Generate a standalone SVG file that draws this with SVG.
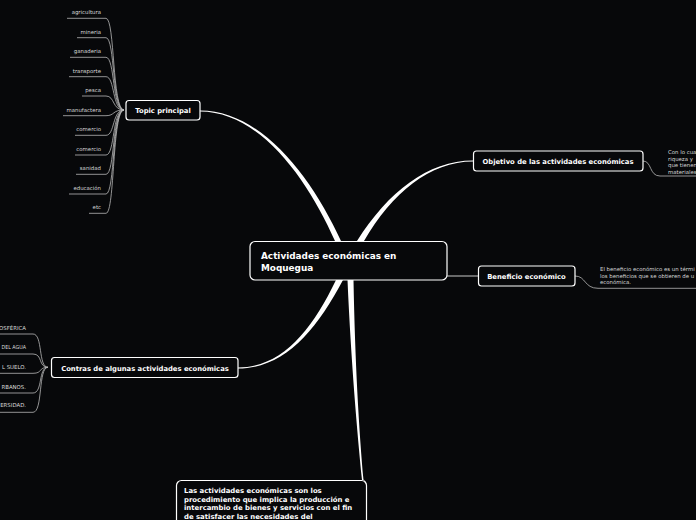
<svg xmlns="http://www.w3.org/2000/svg" width="696" height="520" viewBox="0 0 696 520">
<style>
.bg{fill:#07080a}
.node rect{fill:#07080a;stroke:#ffffff;stroke-width:1.2}
.t{font-family:"DejaVu Sans",Verdana,sans-serif;font-weight:bold;fill:#ffffff}
.leaf{font-family:"DejaVu Sans",Verdana,sans-serif;font-size:5.4px;fill:#d8d8d8}
.ul{fill:none;stroke:#b8b8b8;stroke-width:0.8}
.tap{fill:#ffffff}
</style>
<rect class="bg" x="0" y="0" width="696" height="520"/>
<g id="connectors">
  <path class="tap" d="M200,110.5 C262,110.5 312,178 341,241 L335,241 C308,180 260,111.5 200,111.5 Z"/>
  <path class="tap" d="M357,241 C388,192 428,160.5 473,160.5 L473,161.5 C430,161.5 392,193 364,241 Z"/>
  <path class="tap" d="M336,280 C312,330 282,367.5 238,367.5 L238,368.5 C284,368.5 316,331 343,280 Z"/>
  <path class="tap" d="M347.5,280 C351,360 357,430 362,480 L363.5,480 C359,430 355,360 353.5,280 Z"/>
  <path class="ul" d="M363,480 C365,480 366,482 366,486"/>
  <line x1="447" y1="276" x2="478" y2="276" stroke="#c8c8c8" stroke-width="1"/>
  <path class="ul" d="M67,18.3 H106 C115,18.3 112,110 124,110"/>
  <path class="ul" d="M77,37.7 H106 C115,37.7 112,110 124,110"/>
  <path class="ul" d="M70,57.3 H106 C115,57.3 112,110 124,110"/>
  <path class="ul" d="M69,76.7 H106 C115,76.7 112,110 124,110"/>
  <path class="ul" d="M82,96 H106 C115,96 112,110 124,110"/>
  <path class="ul" d="M63,115.7 H106 C115,115.7 112,110 124,110"/>
  <path class="ul" d="M75,135.3 H106 C115,135.3 112,110 124,110"/>
  <path class="ul" d="M75,155 H106 C115,155 112,110 124,110"/>
  <path class="ul" d="M76,174.3 H106 C115,174.3 112,110 124,110"/>
  <path class="ul" d="M69,194 H106 C115,194 112,110 124,110"/>
  <path class="ul" d="M89,213.3 H106 C115,213.3 112,110 124,110"/>
  <path class="ul" d="M0,334 H33 C43,334 38,367.3 48,367.3"/>
  <path class="ul" d="M0,354 H33 C43,354 38,367.3 48,367.3"/>
  <path class="ul" d="M0,373.3 H33 C43,373.3 38,367.3 48,367.3"/>
  <path class="ul" d="M0,393 H33 C43,393 38,367.3 48,367.3"/>
  <path class="ul" d="M0,412.3 H33 C43,412.3 38,367.3 48,367.3"/>
  <path class="ul" d="M643,161 C652,161 649,176 660,176 H696"/>
  <path class="ul" d="M575,276 C586,276 584,288.3 598,288.3 H696"/>
</g>
<g id="central" class="node">
  <rect x="250" y="241.5" width="197" height="38.5" rx="5"/>
  <text class="t" x="261" y="259" font-size="8.9">Actividades económicas en</text>
  <text class="t" x="261" y="271" font-size="8.9">Moquegua</text>
</g>
<g id="topic" class="node">
  <rect x="126" y="100.5" width="74" height="19.5" rx="3"/>
  <text class="t" x="163" y="113" font-size="6.8" text-anchor="middle">Topic principal</text>
</g>
<g id="objetivo" class="node">
  <rect x="473.5" y="151" width="169.5" height="20" rx="3"/>
  <text class="t" x="558" y="164" font-size="6.8" text-anchor="middle">Objetivo de las actividades económicas</text>
</g>
<g id="beneficio" class="node">
  <rect x="478.5" y="266" width="96.5" height="20" rx="3"/>
  <text class="t" x="526.5" y="279" font-size="6.8" text-anchor="middle">Beneficio económico</text>
</g>
<g id="contras" class="node">
  <rect x="51.5" y="357.5" width="186.5" height="20" rx="3"/>
  <text class="t" x="145" y="370.5" font-size="6.8" text-anchor="middle">Contras de algunas actividades económicas</text>
</g>
<g id="definicion" class="node">
  <rect x="176.5" y="480.5" width="190" height="60" rx="5"/>
  <text class="t" x="184" y="493" font-size="6.9">Las actividades económicas son los</text>
  <text class="t" x="184" y="501.5" font-size="6.9">procedimiento que implica la producción e</text>
  <text class="t" x="184" y="510" font-size="6.9">intercambio de bienes y servicios con el fin</text>
  <text class="t" x="184" y="518.5" font-size="6.9">de satisfacer las necesidades del</text>
</g>
<g id="topic-leaves">
  <text class="leaf" x="101" y="14" text-anchor="end">agricultura</text>
  <text class="leaf" x="101" y="34" text-anchor="end">mineria</text>
  <text class="leaf" x="101" y="53" text-anchor="end">ganaderia</text>
  <text class="leaf" x="101" y="73" text-anchor="end">transporte</text>
  <text class="leaf" x="101" y="92" text-anchor="end">pesca</text>
  <text class="leaf" x="101" y="112" text-anchor="end">manufactera</text>
  <text class="leaf" x="101" y="131" text-anchor="end">comercio</text>
  <text class="leaf" x="101" y="151" text-anchor="end">comercio</text>
  <text class="leaf" x="101" y="170" text-anchor="end">sanidad</text>
  <text class="leaf" x="101" y="190" text-anchor="end">educación</text>
  <text class="leaf" x="101" y="209" text-anchor="end">etc</text>
</g>
<g id="contras-leaves">
  <text class="leaf" x="26" y="329.5" text-anchor="end">OSFÉRICA</text>
  <text class="leaf" x="1.5" y="349" font-size="5" textLength="24.5" lengthAdjust="spacingAndGlyphs">DEL AGUA</text>
  <text class="leaf" x="26" y="369" text-anchor="end">L SUELO.</text>
  <text class="leaf" x="26" y="388.5" text-anchor="end">RBANOS.</text>
  <text class="leaf" x="26" y="407" text-anchor="end">ERSIDAD.</text>
</g>
<g id="objetivo-leaf">
  <text class="leaf" x="668" y="154">Con lo cua</text>
  <text class="leaf" x="668" y="160.5">riqueza y</text>
  <text class="leaf" x="668" y="167">que tienen</text>
  <text class="leaf" x="668" y="173.5">materiales</text>
</g>
<g id="beneficio-leaf">
  <text class="leaf" x="600" y="271">El beneficio económico es un térmi</text>
  <text class="leaf" x="600" y="277.5">los beneficios que se obtieren de u</text>
  <text class="leaf" x="600" y="284">económica.</text>
</g>
</svg>
